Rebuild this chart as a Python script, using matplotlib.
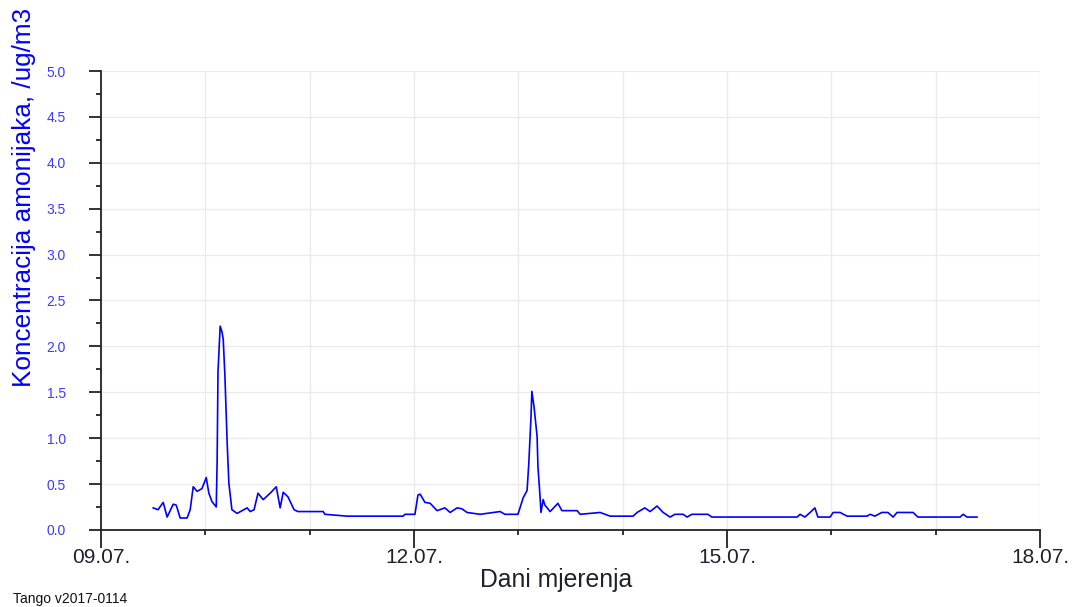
import matplotlib
matplotlib.use('Agg')
import matplotlib.pyplot as plt
import numpy as np

OUT_FILE_NAME = 'out.png'

# hours since 09.07. 00:00 and ammonia concentration (ug/m3)
hours = [
    12.0, 13.1, 14.3, 15.2, 16.6, 17.3, 18.2, 19.8, 20.5, 21.2, 22.1, 23.2,
    24.2, 24.8, 25.5, 26.5, 26.7, 26.9, 27.4, 27.8, 28.1, 28.5, 29.0, 29.4,
    30.1, 31.3, 33.6, 34.3, 35.2, 36.1, 37.3, 38.9, 40.3, 41.2, 41.9, 43.0,
    44.4, 45.3, 51.1, 51.5, 56.6, 69.5, 69.9, 72.2, 72.9, 73.4, 74.5, 75.7,
    77.3, 79.1, 80.3, 81.9, 83.0, 84.2, 87.2, 91.8, 92.9, 95.9, 97.1, 98.0,
    98.4, 98.9, 99.1, 99.6, 100.3, 100.5, 101.0, 101.2, 101.7, 102.1, 103.3,
    105.1, 106.0, 109.5, 110.2, 114.8, 117.1, 122.4, 123.3, 125.1, 126.3,
    127.9, 129.3, 130.9, 132.0, 133.9, 134.8, 135.9, 139.6, 140.5, 160.1,
    160.8, 161.9, 163.1, 164.2, 164.9, 167.7, 168.4, 170.0, 171.6, 176.2,
    176.9, 178.0, 179.6, 181.0, 182.2, 183.1, 186.8, 187.9, 197.6, 198.3,
    199.2, 201.5,
]
concentration = [
    0.24, 0.22, 0.30, 0.14, 0.28, 0.27, 0.13, 0.13, 0.22, 0.47, 0.42, 0.45,
    0.57, 0.40, 0.31, 0.25, 0.74, 1.72, 2.22, 2.16, 2.08, 1.67, 0.96, 0.51,
    0.22, 0.18, 0.24, 0.20, 0.22, 0.40, 0.33, 0.40, 0.47, 0.24, 0.41, 0.36,
    0.22, 0.20, 0.20, 0.17, 0.15, 0.15, 0.17, 0.17, 0.38, 0.39, 0.30, 0.29,
    0.21, 0.24, 0.19, 0.24, 0.23, 0.19, 0.17, 0.20, 0.17, 0.17, 0.35, 0.43,
    0.73, 1.23, 1.51, 1.34, 1.02, 0.69, 0.35, 0.19, 0.33, 0.27, 0.20,
    0.29, 0.21, 0.21, 0.17, 0.19, 0.15, 0.15, 0.19, 0.24, 0.20,
    0.26, 0.19, 0.14, 0.17, 0.17, 0.14, 0.17, 0.17, 0.14, 0.14,
    0.17, 0.14, 0.19, 0.24, 0.14, 0.14, 0.19, 0.19, 0.15, 0.15,
    0.17, 0.15, 0.19, 0.19, 0.14, 0.19, 0.19, 0.14, 0.14, 0.17,
    0.14, 0.14,
]

day_labels = ['09.07.', '12.07.', '15.07.', '18.07.']
y_labels = ['0.0', '0.5', '1.0', '1.5', '2.0', '2.5', '3.0', '3.5', '4.0', '4.5', '5.0']

plt.rcParams['font.family'] = ['Liberation Sans', 'DejaVu Sans']

fig = plt.figure(figsize=(10.75, 6.07), dpi=100)
ax = fig.add_axes([0.094, 0.127, 0.8735, 0.756])

days = np.array(hours) / 24.0
ax.plot(days, concentration, color='#0000ff', linewidth=1.2)

ax.set_xlim(0, 9)
ax.set_ylim(0, 5)

ax.set_xticks([0, 3, 6, 9])
ax.set_xticklabels(day_labels)
ax.set_xticks(range(10), minor=True)
ax.set_yticks(np.arange(0, 5.01, 0.5))
ax.set_yticklabels(y_labels)
ax.set_yticks(np.arange(0, 5.01, 0.25), minor=True)

ax.grid(True, which='major', axis='y', color='#ebebeb', linewidth=1)
ax.grid(True, which='both', axis='x', color='#ebebeb', linewidth=1)
ax.set_axisbelow(True)

for side in ['top', 'right']:
    ax.spines[side].set_visible(False)
for side in ['left', 'bottom']:
    ax.spines[side].set_linewidth(1.3)
    ax.spines[side].set_color('#222222')

ax.tick_params(axis='x', which='major', length=13, width=1.3, pad=0,
               labelsize=15, labelcolor='#202030', color='#222222')
ax.tick_params(axis='x', which='minor', length=3.5, width=1.3, color='#222222')
ax.tick_params(axis='y', which='major', length=8.5, width=1.3, pad=17,
               labelsize=10, labelcolor='#3a3aff', color='#222222')
ax.tick_params(axis='y', which='minor', length=3.5, width=1.3, color='#222222')

ax.set_ylabel('Koncentracija amonijaka, /ug/m3', fontsize=18.8, color='#0000ff')
ax.yaxis.set_label_coords(-0.069, 0.725)
ax.set_xlabel('Dani mjerenja', fontsize=17.8, color='#202030')
ax.xaxis.set_label_coords(0.485, -0.083)

fig.text(0.012, 0.006, 'Tango v2017-0114', fontsize=10, color='#111111')

plt.savefig(OUT_FILE_NAME, dpi=100)
plt.close(fig)
